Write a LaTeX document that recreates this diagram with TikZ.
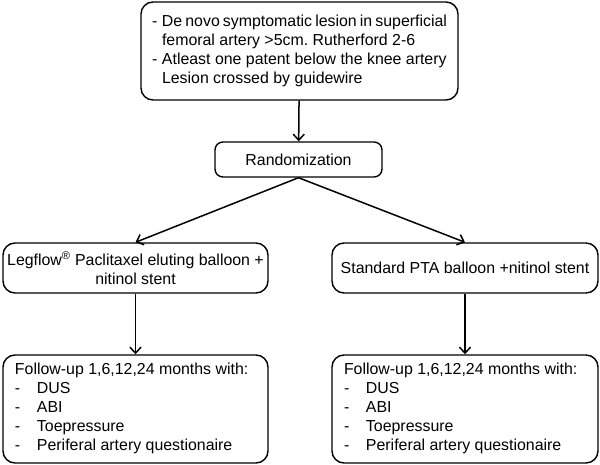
\documentclass[tikz,border=0pt]{standalone}
\usepackage{fontspec}
\setmainfont{Liberation Sans}
\usetikzlibrary{arrows.meta}
\frenchspacing

\tikzset{
  box/.style={draw, line width=1.4bp, rounded corners=12bp, inner sep=0pt,
    font=\fontsize{15.9bp}{19bp}\selectfont},
  arr/.style={-{Straight Barb[length=6bp,width=11bp]}, line width=1.5bp}
}

\begin{document}
\begin{tikzpicture}[x=1bp,y=-1bp]
            \useasboundingbox (0,0) rectangle (600,465);

            \node[box, minimum width=317bp, minimum height=98bp] (incl) at (299.5,51)
              {\begin{tabular}{@{}p{10bp}@{}p{285bp}@{}}
                -&De novo symptomatic lesion in superficial\\
                 &femoral artery >5cm. Rutherford 2-6\\
                -&Atleast one patent below the knee artery\\
                 &Lesion crossed by guidewire
               \end{tabular}};
            \node[box, minimum width=167bp, minimum height=35bp, rounded corners=8bp] (rand) at (298.5,159.5) {Randomization};
            \node[box, minimum width=265bp, minimum height=50bp, align=center] (legflow) at (135.5,268)
              {Legflow\textsuperscript{®} Paclitaxel eluting balloon +\\ nitinol stent};
            \node[box, minimum width=266bp, minimum height=50bp] (pta) at (465,268) {Standard PTA balloon +nitinol stent};

            % follow-up boxes
            \node[box, minimum width=265bp, minimum height=108bp] (fuleft) at (135.5,409)
              {\begin{tabular}{@{}p{22bp}@{}p{219bp}@{}}
                \multicolumn{2}{@{}l@{}}{Follow-up 1,6,12,24 months with:}\\
                -&DUS\\ -&ABI\\ -&Toepressure\\ -&Periferal artery questionaire
               \end{tabular}};
            \node[box, minimum width=266bp, minimum height=108bp] (furight) at (465,409)
              {\begin{tabular}{@{}p{22bp}@{}p{220bp}@{}}
                \multicolumn{2}{@{}l@{}}{Follow-up 1,6,12,24 months with:}\\
                -&DUS\\ -&ABI\\ -&Toepressure\\ -&Periferal artery questionaire
               \end{tabular}};

            \draw[arr] (incl) to (rand);
            \draw[arr] (rand.south) to (legflow.north); \draw[arr] (rand.south) to (pta.north);
            \draw[arr] (legflow) to (fuleft); \draw[arr] (pta) to (furight);
        \end{tikzpicture}
\end{document}
